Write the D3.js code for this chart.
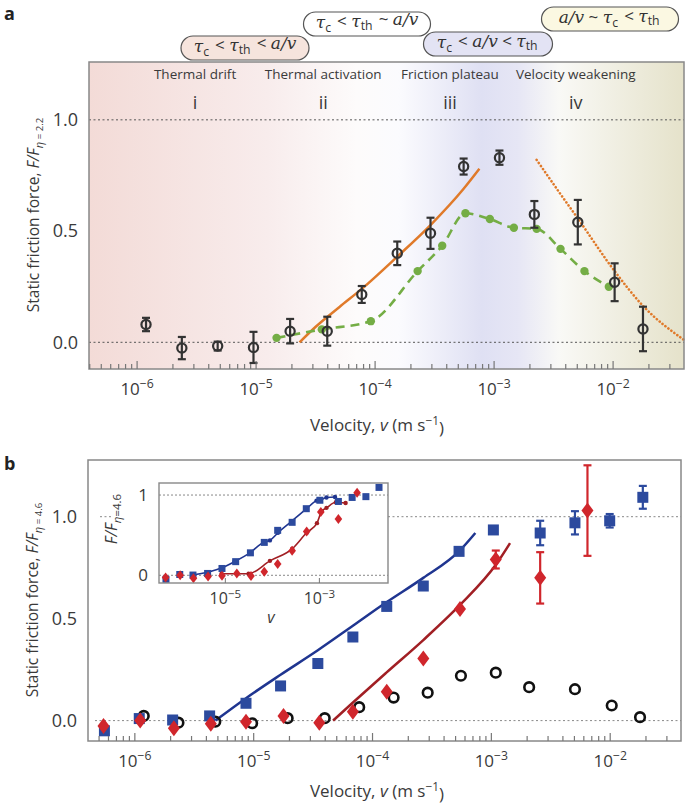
<!DOCTYPE html>
<html>
<head>
<meta charset="utf-8">
<script src="https://cdn.jsdelivr.net/npm/d3@7"></script>
<style>
  body { margin: 0; background: #fff; }
  svg { font-family: "Open Sans", sans-serif; }
</style>
</head>
<body>
<div id="chart"></div>
<script>
// ---- panel a: measured points (black circles)
const aVel = [1.2e-6, 2.4e-6, 4.8e-6, 9.6e-6, 1.95e-5, 4.0e-5, 7.8e-5, 1.55e-4, 2.95e-4, 5.6e-4, 1.12e-3, 2.2e-3, 5.1e-3, 1.04e-2, 1.8e-2];
const aForce = [0.08, -0.026, -0.017, -0.023, 0.05, 0.05, 0.215, 0.40, 0.49, 0.79, 0.83, 0.575, 0.54, 0.27, 0.06];
const aErr = [0.03, 0.05, 0.02, 0.07, 0.055, 0.065, 0.038, 0.053, 0.07, 0.036, 0.032, 0.06, 0.10, 0.085, 0.10];

// panel a: simulation (green dashed)
const simVel = [1.5e-5, 3.6e-5, 9.3e-5, 2.3e-4, 3.7e-4, 5.8e-4, 9.3e-4, 1.48e-3, 2.3e-3, 3.65e-3, 5.8e-3, 9.3e-3];
const simForce = [0.02, 0.058, 0.095, 0.32, 0.434, 0.58, 0.554, 0.515, 0.51, 0.42, 0.32, 0.25];

// panel a: thermal activation fit (orange solid) and velocity weakening (orange dotted)
const actVel = [2.34e-5, 3.2e-5, 5.1e-5, 7.8e-5, 1.55e-4, 2.95e-4, 5.6e-4, 7.6e-4];
const actForce = [0.0, 0.07, 0.16, 0.24, 0.385, 0.527, 0.69, 0.78];
const weakVel = [2.3e-3, 3.5e-3, 5.1e-3, 1.05e-2, 1.8e-2, 4.0e-2];
const weakForce = [0.82, 0.68, 0.557, 0.317, 0.164, 0.01];

// panel a: regime labels
const regimeVel = [3.1e-6, 3.7e-5, 4.3e-4, 4.9e-3];
const regimeNames = ["Thermal drift", "Thermal activation", "Friction plateau", "Velocity weakening"];
const regimeNumerals = ["i", "ii", "iii", "iv"];

// ---- panel b
const blueVel = [5.6e-7, 1.1e-6, 2.1e-6, 4.3e-6, 8.7e-6, 1.7e-5, 3.5e-5, 6.9e-5, 1.33e-4, 2.7e-4, 5.4e-4, 1.05e-3, 2.6e-3, 5.1e-3, 1.0e-2, 1.9e-2];
const blueForce = [-0.05, 0.01, 0.003, 0.023, 0.085, 0.17, 0.28, 0.41, 0.56, 0.66, 0.83, 0.935, 0.92, 0.97, 0.98, 1.095];
const blueErr = [0, 0, 0, 0, 0, 0, 0, 0, 0, 0, 0, 0, 0.06, 0.057, 0.033, 0.056];

const redVel = [5.5e-7, 1.12e-6, 2.15e-6, 4.4e-6, 8.7e-6, 1.8e-5, 3.6e-5, 6.9e-5, 1.33e-4, 2.7e-4, 5.5e-4, 1.1e-3, 2.6e-3, 6.5e-3];
const redForce = [-0.026, 0.0, -0.037, -0.016, -0.005, 0.023, -0.01, 0.044, 0.142, 0.305, 0.547, 0.79, 0.70, 1.03];
const redErr = [0, 0, 0, 0, 0, 0, 0, 0, 0, 0, 0, 0.044, 0.126, 0.222];

const openVel = [1.2e-6, 2.35e-6, 4.8e-6, 9.8e-6, 1.95e-5, 4.0e-5, 7.8e-5, 1.52e-4, 2.94e-4, 5.6e-4, 1.1e-3, 2.1e-3, 5.1e-3, 1.04e-2, 1.8e-2];
const openForce = [0.023, -0.01, -0.005, -0.013, 0.012, 0.012, 0.066, 0.113, 0.137, 0.22, 0.235, 0.164, 0.154, 0.074, 0.017];

const blueFitVel = [4.8e-6, 8.7e-6, 1.7e-5, 3.5e-5, 6.9e-5, 1.32e-4, 2.7e-4, 5.5e-4, 7.4e-4];
const blueFitForce = [0.0, 0.11, 0.225, 0.345, 0.465, 0.58, 0.70, 0.835, 0.92];
const redFitVel = [4.7e-5, 6.8e-5, 1.32e-4, 2.7e-4, 5.5e-4, 1.12e-3, 1.45e-3];
const redFitForce = [0.0, 0.085, 0.235, 0.395, 0.567, 0.77, 0.87];

// inset simulation curves
const blueSimVel = [2.0e-6, 4.4e-6, 8.5e-6, 1.6e-5, 3.4e-5, 6.9e-5, 9.1e-5, 1.35e-4, 2.6e-4, 5.5e-4, 8.9e-4, 1.1e-3, 1.45e-3, 2.2e-3, 2.6e-3];
const blueSimForce = [0.0, 0.04, 0.09, 0.17, 0.28, 0.415, 0.435, 0.53, 0.67, 0.83, 0.93, 0.94, 0.97, 0.975, 0.93];
const redSimVel = [8.5e-6, 1.8e-5, 3.2e-5, 9.1e-5, 2.7e-4, 5.5e-4, 9.1e-4, 1.15e-3, 1.45e-3, 2.3e-3, 3.7e-3];
const redSimForce = [0.02, 0.02, 0.02, 0.18, 0.33, 0.53, 0.65, 0.80, 0.84, 0.91, 0.90];

const yTicks = [0, 0.5, 1.0];
const decades = [1e-6, 1e-5, 1e-4, 1e-3, 1e-2];

const textCol = "#3a3a3a";
const blue = "#2c4a9e", blueLine = "#1f3590";
const red = "#d0262c", redLine = "#a11f24";
const green = "#74ad45", orange = "#e07a2a";

const svg = d3.select("#chart").append("svg")
    .attr("width", 685).attr("height", 804);

const defs = svg.append("defs");
const grad = defs.append("linearGradient").attr("id", "bgA")
    .attr("x1", 0).attr("x2", 1).attr("y1", 0).attr("y2", 0);
[[0, "#f3dbd7"], [0.3, "#f8ecec"], [0.45, "#fdfbfb"], [0.52, "#fbfbfe"],
 [0.66, "#dfe0f3"], [0.72, "#e6e6f5"], [0.79, "#f9f9f6"], [1, "#e5e2ca"]]
    .forEach(s => grad.append("stop").attr("offset", s[0]).attr("stop-color", s[1]));

function zip(xs, ys) { return xs.map((x, i) => ({ v: x, f: ys[i] })); }

function minorTicks(scale) {
    const out = [];
    const [lo, hi] = scale.domain();
    for (let e = -7; e <= -1; e++) {
        for (let m = 2; m <= 9; m++) {
            const v = m * Math.pow(10, e);
            if (v > lo && v < hi) out.push(v);
        }
    }
    return out;
}

function powLabels(g) {
    g.selectAll(".tick text").each(function (d) {
        const t = d3.select(this);
        const e = Math.round(Math.log10(d));
        t.text("10");
        t.append("tspan").attr("dy", "-0.55em").attr("font-size", "0.72em").text("\u2212" + Math.abs(e));
    });
}

function xAxis(g, x, y0, labelSize, values) {
    const major = g.append("g").attr("transform", "translate(0," + y0 + ")")
        .call(d3.axisBottom(x).tickValues(values).tickSize(-8).tickPadding(14));
    major.select(".domain").remove();
    major.selectAll("line").attr("stroke", "#777").attr("stroke-width", 1.2);
    major.selectAll("text").attr("font-size", labelSize).attr("fill", textCol)
        .attr("font-family", "Open Sans");
    powLabels(major);
    const minor = g.append("g").attr("transform", "translate(0," + y0 + ")")
        .call(d3.axisBottom(x).tickValues(minorTicks(x)).tickSize(-5).tickFormat(""));
    minor.select(".domain").remove();
    minor.selectAll("line").attr("stroke", "#777").attr("stroke-width", 1.2);
}

function yAxis(g, y, x0, fmt, size) {
    const ax = g.append("g").attr("transform", "translate(" + x0 + ",0)")
        .call(d3.axisLeft(y).tickValues(fmt ? yTicks : [0, 1]).tickSize(0).tickPadding(6)
            .tickFormat(fmt ? d3.format(".1f") : d3.format("d")));
    ax.select(".domain").remove();
    ax.selectAll("text").attr("font-size", size).attr("fill", textCol).attr("font-family", "Open Sans");
}

function errorBars(g, data, x, y, col, w) {
    const eb = g.append("g").attr("stroke", col).attr("stroke-width", w);
    data.filter(d => d.e > 0).forEach(d => {
        const cx = x(d.v), t = y(d.f + d.e), b = y(d.f - d.e);
        eb.append("line").attr("x1", cx).attr("x2", cx).attr("y1", t).attr("y2", b);
        eb.append("line").attr("x1", cx - 4).attr("x2", cx + 4).attr("y1", t).attr("y2", t);
        eb.append("line").attr("x1", cx - 4).attr("x2", cx + 4).attr("y1", b).attr("y2", b);
    });
}

function velocityTitle(y0) {
    const t = svg.append("text").attr("x", 377).attr("y", y0).attr("text-anchor", "middle")
        .attr("font-size", 17).attr("fill", textCol);
    t.append("tspan").text("Velocity, ");
    t.append("tspan").attr("font-style", "italic").text("v");
    t.append("tspan").text(" (m s");
    t.append("tspan").attr("dy", "-0.5em").attr("font-size", "0.7em").text("\u22121");
    t.append("tspan").attr("dy", "0.5em").text(")");
}

function forceTitle(cx, cy, sub) {
    const t = svg.append("text").attr("transform", "translate(" + cx + "," + cy + ") rotate(-90)")
        .attr("text-anchor", "middle").attr("font-size", 15.5).attr("fill", textCol);
    t.append("tspan").text("Static friction force, ");
    t.append("tspan").attr("font-style", "italic").text("F/F");
    t.append("tspan").attr("font-style", "italic").attr("dy", "0.35em").attr("font-size", "0.72em").text("\u03b7");
    t.append("tspan").attr("font-size", "0.62em").text(" = " + sub);
}

// =================== PANEL A ===================
const xa = d3.scaleLog().domain([Math.pow(10, -6.4), Math.pow(10, -1.4)]).range([89, 684]);
const ya = d3.scaleLinear().domain([-0.12, 1.26]).range([369, 62]);
const ga = svg.append("g");

ga.append("rect").attr("x", 89).attr("y", 62).attr("width", 595).attr("height", 307)
    .attr("fill", "url(#bgA)");

[0, 1].forEach(v => ga.append("line").attr("x1", 89).attr("x2", 684)
    .attr("y1", ya(v)).attr("y2", ya(v))
    .attr("stroke", "#555").attr("stroke-width", 1).attr("stroke-dasharray", "2,2.5"));

// regime labels
regimeVel.forEach((v, i) => {
    ga.append("text").attr("x", xa(v)).attr("y", 79).attr("text-anchor", "middle")
        .attr("font-size", 13.5).attr("fill", textCol).text(regimeNames[i]);
    ga.append("text").attr("x", xa(v)).attr("y", 109).attr("text-anchor", "middle")
        .attr("font-size", 18).attr("fill", textCol).text(regimeNumerals[i]);
});

// orange fits
const lineA = d3.line().x(d => xa(d.v)).y(d => ya(d.f)).curve(d3.curveMonotoneX);
ga.append("path").datum(zip(actVel, actForce)).attr("d", lineA)
    .attr("fill", "none").attr("stroke", orange).attr("stroke-width", 2.5);
ga.append("path").datum(zip(weakVel, weakForce)).attr("d", lineA)
    .attr("fill", "none").attr("stroke", orange).attr("stroke-width", 2.6)
    .attr("stroke-linecap", "round").attr("stroke-dasharray", "0.1,3.6");

// green simulation
ga.append("path").datum(zip(simVel, simForce)).attr("d", lineA)
    .attr("fill", "none").attr("stroke", green).attr("stroke-width", 2.6)
    .attr("stroke-dasharray", "9,6");
ga.selectAll(".sim").data(zip(simVel, simForce)).join("circle")
    .attr("cx", d => xa(d.v)).attr("cy", d => ya(d.f)).attr("r", 4.2).attr("fill", green);

// measured points
const aData = aVel.map((v, i) => ({ v: v, f: aForce[i], e: aErr[i] }));
errorBars(ga, aData, xa, ya, "#333", 2.2);
ga.selectAll(".pt").data(aData).join("circle")
    .attr("cx", d => xa(d.v)).attr("cy", d => ya(d.f)).attr("r", 4.6)
    .attr("fill", "none").attr("stroke", "#333").attr("stroke-width", 2.2);

ga.append("rect").attr("x", 89).attr("y", 62).attr("width", 595).attr("height", 307)
    .attr("fill", "none").attr("stroke", "#888").attr("stroke-width", 1.5);

xAxis(ga, xa, 369, 17, decades);
yAxis(ga, ya, 84, true, 18);

// regime condition bubbles
const bubbles = [
    { cx: 245, cy: 48, w: 128, fill: "#f6e4dd", parts: [["\u03c4", "c"], " < ", ["\u03c4", "th"], " < ", ["a/v"]] },
    { cx: 367, cy: 24, w: 127, fill: "#ffffff", parts: [["\u03c4", "c"], " < ", ["\u03c4", "th"], " ~ ", ["a/v"]] },
    { cx: 488, cy: 44, w: 129, fill: "#e3e3f4", parts: [["\u03c4", "c"], " < ", ["a/v"], " < ", ["\u03c4", "th"]] },
    { cx: 610, cy: 19, w: 137, fill: "#fbf8e2", parts: [["a/v"], " ~ ", ["\u03c4", "c"], " < ", ["\u03c4", "th"]] }
];
bubbles.forEach(b => {
    svg.append("rect").attr("x", b.cx - b.w / 2).attr("y", b.cy - 12).attr("width", b.w).attr("height", 24)
        .attr("rx", 12).attr("fill", b.fill).attr("stroke", "#555").attr("stroke-width", 1.2);
    const t = svg.append("text").attr("x", b.cx).attr("y", b.cy + 4).attr("text-anchor", "middle")
        .attr("font-size", 17).attr("fill", "#333").attr("font-family", "DejaVu Serif, serif");
    b.parts.forEach(p => {
        if (typeof p === "string") {
            t.append("tspan").attr("font-family", "Open Sans").text(p);
        } else {
            t.append("tspan").attr("font-style", "italic").text(p[0]);
            if (p[1]) {
                t.append("tspan").attr("dy", "0.3em").attr("font-size", "0.72em")
                    .attr("font-family", "Open Sans").text(p[1]);
                t.append("tspan").attr("dy", "-0.3em").text("\u200a");
            }
        }
    });
});

svg.append("text").attr("x", 4).attr("y", 20).attr("font-size", 18).attr("font-weight", "bold")
    .attr("fill", "#222").text("a");
forceTitle(39, 215, "2.2");
velocityTitle(431);

// =================== PANEL B ===================
const xb = d3.scaleLog().domain([Math.pow(10, -6.39), Math.pow(10, -1.4)]).range([88, 681]);
const yb = d3.scaleLinear().domain([-0.1, 1.278]).range([741, 460]);
const gb = svg.append("g");

gb.append("line").attr("x1", 95).attr("x2", 681).attr("y1", yb(0)).attr("y2", yb(0))
    .attr("stroke", "#888").attr("stroke-width", 1).attr("stroke-dasharray", "2,2.5");
[[100, 113], [388, 681]].forEach(s => gb.append("line").attr("x1", s[0]).attr("x2", s[1])
    .attr("y1", yb(1)).attr("y2", yb(1))
    .attr("stroke", "#888").attr("stroke-width", 1).attr("stroke-dasharray", "2,2.5"));

const lineB = d3.line().x(d => xb(d.v)).y(d => yb(d.f)).curve(d3.curveMonotoneX);
gb.append("path").datum(zip(blueFitVel, blueFitForce)).attr("d", lineB)
    .attr("fill", "none").attr("stroke", blueLine).attr("stroke-width", 2.5);
gb.append("path").datum(zip(redFitVel, redFitForce)).attr("d", lineB)
    .attr("fill", "none").attr("stroke", redLine).attr("stroke-width", 2.5);

const blueData = blueVel.map((v, i) => ({ v: v, f: blueForce[i], e: blueErr[i] }));
const redData = redVel.map((v, i) => ({ v: v, f: redForce[i], e: redErr[i] }));
errorBars(gb, blueData, xb, yb, blue, 2.2);
errorBars(gb, redData, xb, yb, red, 2.2);

gb.selectAll(".open").data(zip(openVel, openForce)).join("circle")
    .attr("cx", d => xb(d.v)).attr("cy", d => yb(d.f)).attr("r", 4.8)
    .attr("fill", "none").attr("stroke", "#111").attr("stroke-width", 2.6);
gb.selectAll(".sq").data(blueData).join("rect")
    .attr("x", d => xb(d.v) - 5.5).attr("y", d => yb(d.f) - 5.5)
    .attr("width", 11).attr("height", 11).attr("fill", blue);
gb.selectAll(".dia").data(redData).join("path")
    .attr("d", d => {
        const cx = xb(d.v), cy = yb(d.f);
        return `M${cx},${cy - 8}L${cx + 6},${cy}L${cx},${cy + 8}L${cx - 6},${cy}Z`;
    })
    .attr("fill", red);

gb.append("rect").attr("x", 88).attr("y", 460).attr("width", 593).attr("height", 281)
    .attr("fill", "none").attr("stroke", "#888").attr("stroke-width", 1.5);

xAxis(gb, xb, 741, 17, decades);
yAxis(gb, yb, 83, true, 18);

svg.append("text").attr("x", 4).attr("y", 470).attr("font-size", 18).attr("font-weight", "bold")
    .attr("fill", "#222").text("b");
forceTitle(38, 600, "4.6");
velocityTitle(797);

// ---- inset
const xi = d3.scaleLog().domain([Math.pow(10, -6.4), Math.pow(10, -1.53)]).range([159, 388]);
const yi = d3.scaleLinear().domain([-0.096, 1.15]).range([583, 483]);
const gi = svg.append("g");
gi.append("rect").attr("x", 159).attr("y", 483).attr("width", 229).attr("height", 100)
    .attr("fill", "#fff");
[0, 1].forEach(v => gi.append("line").attr("x1", 159).attr("x2", 388)
    .attr("y1", yi(v)).attr("y2", yi(v))
    .attr("stroke", "#888").attr("stroke-width", 1).attr("stroke-dasharray", "2,2"));

const lineI = d3.line().x(d => xi(d.v)).y(d => yi(d.f)).curve(d3.curveMonotoneX);
[[blueSimVel, blueSimForce, blueLine], [redSimVel, redSimForce, redLine]].forEach(s => {
    const pts = zip(s[0], s[1]);
    gi.append("path").datum(pts).attr("d", lineI).attr("fill", "none")
        .attr("stroke", s[2]).attr("stroke-width", 1.6);
    gi.selectAll(null).data(pts).join("circle").attr("cx", d => xi(d.v)).attr("cy", d => yi(d.f))
        .attr("r", 2.2).attr("fill", s[2]);
});
gi.selectAll(".isq").data(blueData).join("rect")
    .attr("x", d => xi(d.v) - 3.5).attr("y", d => yi(d.f) - 3.5)
    .attr("width", 7).attr("height", 7).attr("fill", blue);
gi.selectAll(".idia").data(redData).join("path")
    .attr("d", d => {
        const cx = xi(d.v), cy = yi(d.f);
        return `M${cx},${cy - 5}L${cx + 3.8},${cy}L${cx},${cy + 5}L${cx - 3.8},${cy}Z`;
    })
    .attr("fill", red);
gi.append("rect").attr("x", 159).attr("y", 483).attr("width", 229).attr("height", 100)
    .attr("fill", "none").attr("stroke", "#888").attr("stroke-width", 1.4);

const ia = gi.append("g").attr("transform", "translate(0,583)")
    .call(d3.axisBottom(xi).tickValues([1e-5, 1e-3]).tickSize(-5).tickPadding(10));
ia.select(".domain").remove();
ia.selectAll("line").attr("stroke", "#777");
ia.selectAll("text").attr("font-size", 16).attr("fill", textCol).attr("font-family", "Open Sans");
powLabels(ia);
yAxis(gi, yi, 154, false, 17);

gi.append("text").attr("x", 271).attr("y", 623).attr("text-anchor", "middle")
    .attr("font-size", 16).attr("font-style", "italic").attr("fill", textCol).text("v");
const it = gi.append("text").attr("transform", "translate(117,519) rotate(-90)")
    .attr("text-anchor", "middle").attr("font-size", 16).attr("fill", textCol);
it.append("tspan").attr("font-style", "italic").text("F/F");
it.append("tspan").attr("font-style", "italic").attr("dy", "0.35em").attr("font-size", "0.72em").text("\u03b7");
it.append("tspan").attr("font-size", "0.72em").text("=4.6");
</script>
</body>
</html>
